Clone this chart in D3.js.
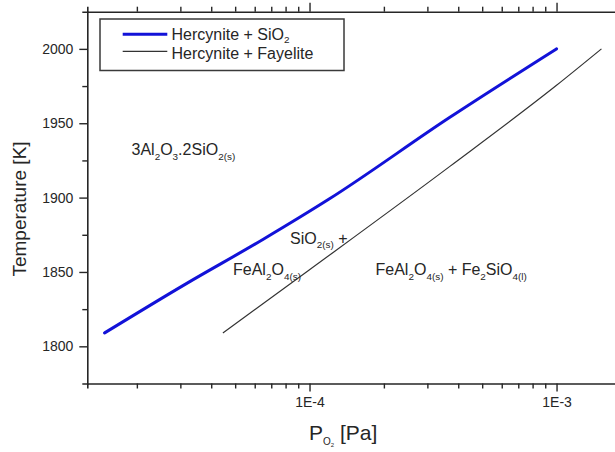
<!DOCTYPE html>
<html>
<head>
<meta charset="utf-8">
<script src="https://cdn.jsdelivr.net/npm/d3@7"></script>
<style>
  body { margin: 0; background: #fff; }
  svg { font-family: "Liberation Sans", Arial, sans-serif; }
</style>
</head>
<body>
<div id="chart"></div>
<script>
// phase boundary lines (P in Pa, T in K)
const hercyniteSiO2P = [1.48e-5, 3.16e-5, 6.5e-5, 1.2e-4, 3.7e-4, 1e-3];
const hercyniteSiO2T = [1809, 1842, 1872, 1899, 1954, 2000];
const hercyniteFayP = [4.46e-5, 1e-4, 3.7e-4, 1e-3, 1.52e-3];
const hercyniteFayT = [1809, 1851.5, 1921, 1975.5, 2000];

const yTicks = [1800, 1850, 1900, 1950, 2000];
const yMinor = [1825, 1875, 1925, 1975];
const xMajor = [1e-4, 1e-3];
const xMajorLabels = ["1E-4", "1E-3"];
const seriesNames = ["Hercynite + SiO2", "Hercynite + Fayelite"];

const width = 615, height = 452;
const plotLeft = 87.3, plotTop = 11.7, plotBottom = 383.5;

const svg = d3.select("#chart").append("svg")
    .attr("width", width)
    .attr("height", height);

const x = d3.scaleLog()
    .domain([1.26e-5, 2e-3])
    .range([plotLeft, 630.9]);

const y = d3.scaleLinear()
    .domain([1775, 2025])
    .range([plotBottom, plotTop]);

// minor log ticks 2..9 per decade
const xMinor = [];
[1e-5, 1e-4, 1e-3].forEach(d => {
    for (let k = 2; k <= 9; k++) {
        const v = d * k;
        if (v > x.domain()[0] && v < x.domain()[1]) xMinor.push(v);
    }
});

const ink = "#262626";

function styleAxis(g) {
    g.select(".domain").attr("stroke", ink).attr("stroke-width", 1.6);
    g.selectAll(".tick line").attr("stroke", ink).attr("stroke-width", 1.4);
    g.selectAll(".tick text").attr("fill", ink).style("font-size", "14px");
}

// bottom axis
svg.append("g")
    .attr("transform", `translate(0,${plotBottom})`)
    .call(d3.axisBottom(x).tickValues(xMinor).tickSize(5).tickFormat(""))
    .call(styleAxis);
svg.append("g")
    .attr("transform", `translate(0,${plotBottom})`)
    .call(d3.axisBottom(x).tickValues(xMajor).tickSize(8).tickPadding(6)
        .tickFormat((d, i) => xMajorLabels[i]))
    .call(styleAxis)
    .call(g => g.select(".domain").remove());

// top axis
svg.append("g")
    .attr("transform", `translate(0,${plotTop})`)
    .call(d3.axisTop(x).tickValues(xMinor).tickSize(5).tickFormat(""))
    .call(styleAxis);
svg.append("g")
    .attr("transform", `translate(0,${plotTop})`)
    .call(d3.axisTop(x).tickValues(xMajor).tickSize(9).tickFormat(""))
    .call(styleAxis)
    .call(g => g.select(".domain").remove());

// left axis
svg.append("g")
    .attr("transform", `translate(${plotLeft},0)`)
    .call(d3.axisLeft(y).tickValues(yMinor).tickSize(5).tickFormat(""))
    .call(styleAxis);
svg.append("g")
    .attr("transform", `translate(${plotLeft},0)`)
    .call(d3.axisLeft(y).tickValues(yTicks).tickSize(8).tickPadding(6).tickFormat(d3.format("d")))
    .call(styleAxis)
    .call(g => g.select(".domain").remove());

// lines
const line = d3.line()
    .x(d => x(d[0]))
    .y(d => y(d[1]))
    .curve(d3.curveMonotoneX);

svg.append("path")
    .datum(d3.zip(hercyniteSiO2P, hercyniteSiO2T))
    .attr("fill", "none")
    .attr("stroke", "#1212d8")
    .attr("stroke-width", 3)
    .attr("stroke-linecap", "round")
    .attr("d", line);

svg.append("path")
    .datum(d3.zip(hercyniteFayP, hercyniteFayT))
    .attr("fill", "none")
    .attr("stroke", "#333")
    .attr("stroke-width", 1.2)
    .attr("d", line);

// text with subscripts: segments [string, isSub]
function richText(px, py, segs, size, drop) {
    const d = drop !== undefined ? drop : size * 0.3;
    const t = svg.append("text")
        .attr("x", px)
        .attr("y", py)
        .attr("fill", ink)
        .style("font-size", size + "px");
    let shifted = false;
    segs.forEach(s => {
        const sp = t.append("tspan").text(s[0]);
        if (s[1] && !shifted) {
            sp.attr("dy", d).style("font-size", (size * 0.62) + "px");
            shifted = true;
        } else if (s[1]) {
            sp.style("font-size", (size * 0.62) + "px");
        } else if (shifted) {
            sp.attr("dy", -d);
            shifted = false;
        }
    });
    return t;
}

// legend
const legend = svg.append("g");
legend.append("rect")
    .attr("x", 100).attr("y", 19)
    .attr("width", 244).attr("height", 51.5)
    .attr("fill", "#fff")
    .attr("stroke", "#3a3a3a")
    .attr("stroke-width", 1.5);
legend.append("line")
    .attr("x1", 122.7).attr("x2", 167.3)
    .attr("y1", 34.3).attr("y2", 34.3)
    .attr("stroke", "#1212d8").attr("stroke-width", 3);
legend.append("line")
    .attr("x1", 122.7).attr("x2", 167.3)
    .attr("y1", 51.3).attr("y2", 51.3)
    .attr("stroke", "#333").attr("stroke-width", 1.2);
richText(171.5, 40, [["Hercynite + SiO", false], ["2", true]], 16, 3);
richText(171.5, 58.5, [[seriesNames[1], false]], 16);

// region labels
richText(131.5, 155, [["3Al", false], ["2", true], ["O", false], ["3", true], [".2SiO", false], ["2(s)", true]], 16);
richText(290, 243.5, [["SiO", false], ["2(s)", true], [" +", false]], 16);
richText(233, 275, [["FeAl", false], ["2", true], ["O", false], ["4(s)", true]], 16);
richText(375.5, 275, [["FeAl", false], ["2", true], ["O", false], ["4(s)", true], [" + Fe", false], ["2", true], ["SiO", false], ["4(l)", true]], 16);

// axis titles
svg.append("text")
    .attr("transform", `translate(26,209) rotate(-90)`)
    .attr("text-anchor", "middle")
    .attr("fill", ink)
    .style("font-size", "19px")
    .text("Temperature [K]");

const xt = svg.append("text")
    .attr("x", 309)
    .attr("y", 440)
    .attr("fill", ink)
    .style("font-size", "21px");
xt.append("tspan").text("P");
xt.append("tspan").attr("dy", 5).style("font-size", "10px").text("O");
xt.append("tspan").attr("dy", 2).style("font-size", "6px").text("2");
xt.append("tspan").attr("dy", -7).text(" [Pa]");
</script>
</body>
</html>
